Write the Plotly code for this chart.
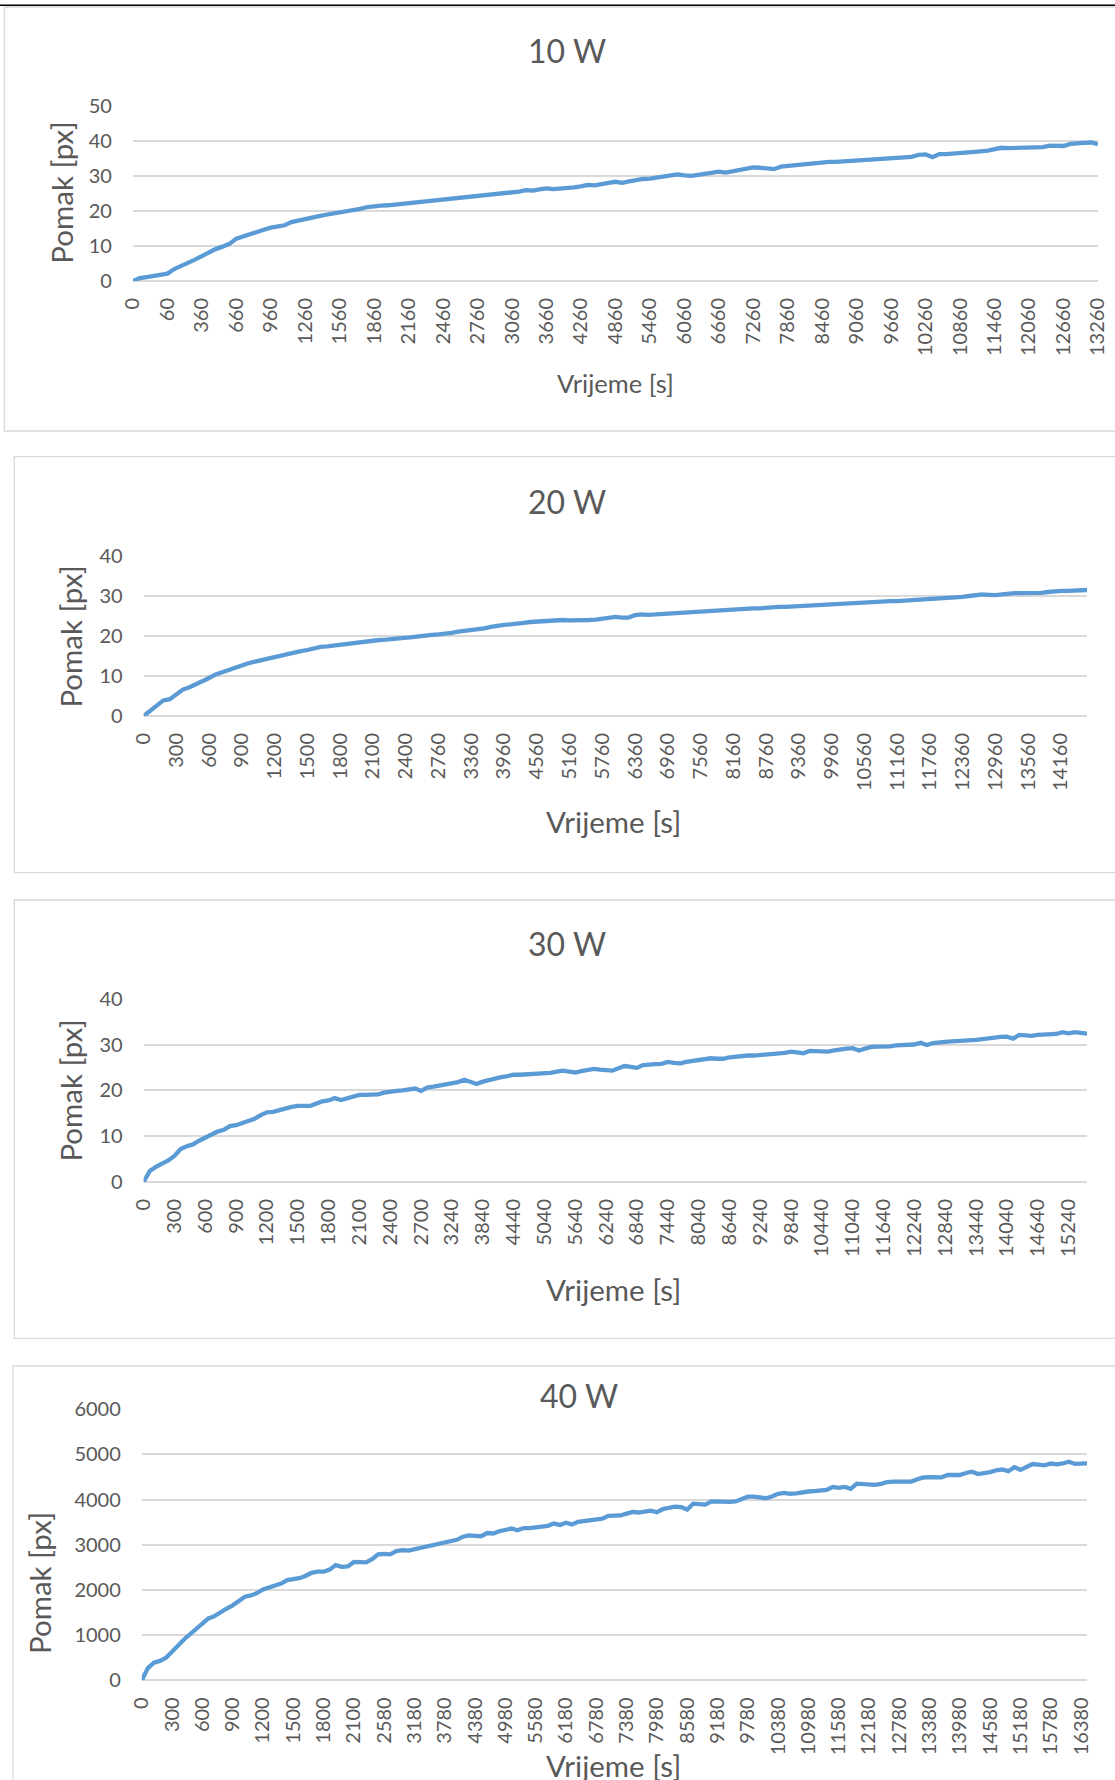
import plotly.graph_objects as go

W, H = 1115, 1780

# ---------------- data ----------------
# category (time) labels of each measurement, in seconds
time_10w = [0, 12, 24, 36, 48] + list(range(60, 3060, 60)) + list(range(3060, 13261, 120))
time_20w = list(range(0, 2401, 60)) + [2460, 2520, 2580, 2640] + list(range(2760, 14641, 120))
time_30w = list(range(0, 2701, 60)) + [2760, 2880, 3000, 3120] + list(range(3240, 15601, 120))
time_40w = list(range(0, 2101, 60)) + [2160, 2220, 2340, 2460] + list(range(2580, 16501, 120))

pomak_10w = [
    0, 0.8, 1.1, 1.4, 1.8, 2.1, 3.4, 4.2, 5.0, 6.1, 7.1, 8.2, 9.1, 9.8, 10.6, 12.1, 12.8, 13.3, 13.9, 14.6,
    15.2, 15.5, 15.9, 16.8, 17.3, 17.6, 18.0, 18.5, 18.9, 19.2, 19.4, 19.9, 20.0, 20.6, 21.1, 21.4, 21.5, 21.6, 21.8, 22.1,
    22.3, 22.4, 22.7, 22.6, 23.0, 23.3, 23.2, 23.6, 23.8, 24.0, 24.2, 24.3, 24.7, 24.8, 24.9, 25.2, 25.5, 25.9, 25.8, 26.1,
    26.4, 26.2, 26.3, 26.5, 26.7, 27.0, 27.4, 27.3, 27.5, 28.0, 28.3, 28.0, 28.4, 28.8, 29.1, 29.2, 29.5, 29.8, 30.1, 30.4,
    30.1, 30.0, 30.3, 30.7, 31.1, 31.2, 30.9, 31.2, 31.5, 31.8, 32.4, 32.3, 32.1, 31.9, 32.6, 32.8, 33.0, 33.2, 33.5, 33.8,
    34.0, 34.0, 34.0, 34.1, 34.2, 34.3, 34.4, 34.5, 34.6, 34.9, 35.0, 35.2, 35.3, 35.4, 36.0, 36.1, 35.3, 36.2, 36.2, 36.3,
    36.5, 36.6, 36.8, 37.0, 37.2, 37.6, 38.0, 37.9, 38.0, 37.9, 38.0, 38.0, 38.2, 38.6, 38.7, 38.5, 39.1, 39.4, 39.4, 39.5,
    39.0,
]
pomak_20w = [
    0, 1.4, 2.7, 3.9, 4.2, 5.3, 6.6, 7.2, 7.9, 8.7, 9.5, 10.4, 11.0, 11.6, 12.2, 12.7, 13.2, 13.6, 14.0, 14.4,
    14.8, 15.1, 15.5, 15.8, 16.2, 16.5, 16.9, 17.3, 17.4, 17.6, 17.8, 18.1, 18.4, 18.6, 18.8, 19.0, 19.0, 19.1, 19.2, 19.3,
    19.5, 19.7, 19.9, 20.2, 20.3, 20.4, 20.5, 20.8, 21.1, 21.3, 21.4, 21.6, 21.9, 22.3, 22.6, 22.8, 22.9, 23.2, 23.3, 23.5,
    23.6, 23.8, 23.7, 23.9, 24.0, 23.9, 23.9, 23.8, 24.0, 24.1, 24.3, 24.7, 24.8, 24.6, 24.6, 25.2, 25.4, 25.3, 25.4, 25.5,
    25.6, 25.7, 25.9, 25.9, 26.0, 26.3, 26.3, 26.4, 26.5, 26.5, 26.6, 26.7, 26.8, 26.9, 26.9, 27.1, 27.2, 27.3, 27.3, 27.4,
    27.5, 27.5, 27.6, 27.7, 27.9, 28.0, 28.0, 28.1, 28.2, 28.3, 28.4, 28.5, 28.6, 28.6, 28.7, 28.7, 28.8, 28.9, 28.9, 29.0,
    29.1, 29.3, 29.4, 29.4, 29.5, 29.8, 30.0, 30.2, 30.4, 30.3, 30.2, 30.4, 30.6, 30.7, 30.7, 30.7, 30.7, 30.8, 31.0, 31.2,
    31.3, 31.3, 31.4, 31.5, 31.5,
]
pomak_30w = [
    0, 2.4, 3.3, 3.9, 4.7, 5.7, 7.2, 7.8, 8.2, 9.0, 9.7, 10.5, 11.0, 11.4, 12.2, 12.4, 12.8, 13.4, 13.8, 14.6,
    15.2, 15.3, 15.7, 16.2, 16.4, 16.6, 16.6, 16.6, 17.1, 17.6, 17.8, 18.3, 17.9, 18.2, 18.5, 19.0, 19.0, 19.0, 19.1, 19.5,
    19.8, 19.9, 20.0, 20.2, 20.4, 19.9, 20.6, 20.8, 21.0, 21.3, 21.5, 21.8, 22.3, 21.9, 21.4, 21.9, 22.3, 22.7, 22.9, 23.1,
    23.4, 23.4, 23.5, 23.5, 23.5, 23.6, 23.8, 24.1, 24.3, 24.1, 23.9, 24.2, 24.4, 24.7, 24.5, 24.4, 24.3, 24.8, 25.3, 25.1,
    24.9, 25.5, 25.5, 25.7, 25.8, 26.2, 26.0, 25.9, 26.2, 26.4, 26.4, 26.6, 27.0, 26.9, 26.9, 27.2, 27.4, 27.5, 27.6, 27.6,
    27.7, 27.8, 27.9, 28.0, 28.2, 28.45, 28.3, 28.1, 28.6, 28.5, 28.4, 28.45, 28.7, 28.95, 29.1, 29.2, 28.7, 29.1, 29.5, 29.55,
    29.55, 29.6, 29.8, 29.9, 29.8, 30.0, 30.4, 29.9, 30.3, 30.55, 30.6, 30.7, 30.75, 30.85, 30.9, 31.0, 31.2, 31.4, 31.5, 31.65,
    31.7, 31.3, 32.1, 32.0, 31.9, 32.1, 32.2, 32.25, 32.3, 32.7, 32.45, 32.7, 32.6, 32.4,
]
pomak_40w = [
    0, 270, 390, 430, 500, 620, 770, 910, 1020, 1150, 1270, 1370, 1420, 1510, 1590, 1660, 1770, 1850, 1880, 1930,
    2010, 2050, 2090, 2140, 2220, 2236, 2260, 2310, 2380, 2405, 2405, 2450, 2550, 2510, 2520, 2620, 2610, 2610, 2680, 2790,
    2800, 2790, 2860, 2880, 2870, 2900, 2940, 2970, 3000, 3020, 3050, 3080, 3110, 3180, 3210, 3200, 3190, 3260, 3250, 3300,
    3330, 3360, 3320, 3370, 3370, 3380, 3400, 3420, 3470, 3440, 3490, 3450, 3510, 3530, 3550, 3550, 3580, 3640, 3640, 3650,
    3690, 3730, 3715, 3730, 3755, 3720, 3790, 3820, 3844, 3835, 3780, 3910, 3890, 3890, 3960, 3950, 3940, 3950, 3960, 4020,
    4066, 4066, 4050, 4030, 4070, 4130, 4150, 4130, 4140, 4170, 4180, 4190, 4200, 4214, 4280, 4260, 4280, 4240, 4355, 4350,
    4346, 4325, 4350, 4390, 4398, 4398, 4398, 4400, 4450, 4490, 4500, 4505, 4495, 4545, 4545, 4545, 4590, 4619, 4565, 4580,
    4610, 4650, 4670, 4630, 4720, 4660, 4720, 4789, 4775, 4760, 4800, 4780, 4800, 4840, 4790, 4800, 4804,
]

titles = ["10 W", "20 W", "30 W", "40 W"]
y_ranges = [[0, 50], [0, 40], [0, 40], [0, 6000]]
y_ticks = [[0, 10, 20, 30, 40, 50], [0, 10, 20, 30, 40], [0, 10, 20, 30, 40],
           [0, 1000, 2000, 3000, 4000, 5000, 6000]]
x_title = "Vrijeme [s]"
y_title = "Pomak [px]"
LABEL_EVERY = 5

# ---------------- layout (pixels) ----------------
# plot area: x0, x1, ytop, ybottom
plot_px = [(132.9, 1097.9, 105.7, 281.0),
           (143.6, 1087.1, 556.0, 716.0),
           (143.6, 1087.1, 998.7, 1182.0),
           (141.8, 1087.1, 1409.3, 1680.3)]
box_px = [(4.3, 7.0, 1125, 431.0),
          (14.3, 456.7, 1125, 872.7),
          (14.3, 900.0, 1125, 1338.3),
          (12.9, 1366.0, 1125, 1800)]
title_px = [(566.5, 50.5), (566.5, 501.5), (566.5, 943.3), (579.0, 1395.0)]
ytitle_px = [(60.7, 193.0), (69.6, 637.0), (69.6, 1091.0), (39.3, 1582.7)]
xtitle_px = [(615.0, 382.5), (613.0, 822.0), (613.0, 1289.0), (613.0, 1765.5)]
xtitle_size = [25.5, 29.5, 29.5, 29.5]

TXT = "#595959"
GRID = "#D9D9D9"
BLUE = "#5B9BD5"
FONT = "Lato"


def px_x(x):
    return x / W


def px_y(y):
    return 1 - y / H


series = [(time_10w, pomak_10w), (time_20w, pomak_20w), (time_30w, pomak_30w), (time_40w, pomak_40w)]

fig = go.Figure()
shapes = []
annotations = []

for i, (t, v) in enumerate(series):
    n = i + 1
    xa = "x" if n == 1 else f"x{n}"
    ya = "y" if n == 1 else f"y{n}"
    cats = [str(s) for s in t]
    fig.add_trace(go.Scatter(x=cats, y=v, mode="lines", xaxis=xa, yaxis=ya,
                             line=dict(color=BLUE, width=4.3), hoverinfo="skip", showlegend=False))
    x0, x1, yt, yb = plot_px[i]
    xkey = "xaxis" if n == 1 else f"xaxis{n}"
    ykey = "yaxis" if n == 1 else f"yaxis{n}"
    fig.update_layout(**{
        xkey: dict(domain=[px_x(x0), px_x(x1)], anchor=ya, type="category",
                   range=[0, len(cats) - 1], tickmode="array",
                   tickvals=cats[::LABEL_EVERY], ticktext=cats[::LABEL_EVERY],
                   tickangle=-90, showgrid=False, zeroline=False, showline=False,
                   ticks="", ticklabelstandoff=12,
                   tickfont=dict(family=FONT, size=20, color=TXT), automargin=False,
                   fixedrange=True),
        ykey: dict(domain=[px_y(yb), px_y(yt)], anchor=xa, range=y_ranges[i],
                   tickmode="array", tickvals=y_ticks[i],
                   showgrid=True, gridcolor=GRID, gridwidth=1.5,
                   zeroline=True, zerolinecolor=GRID, zerolinewidth=1.5,
                   showline=False, ticks="", ticklabelstandoff=20,
                   tickfont=dict(family=FONT, size=20, color=TXT), automargin=False,
                   fixedrange=True),
    })
    bx0, by0, bx1, by1 = box_px[i]
    shapes.append(dict(type="rect", xref="paper", yref="paper",
                       x0=px_x(bx0), x1=px_x(bx1), y0=px_y(by1), y1=px_y(by0),
                       line=dict(color=GRID, width=1.3), fillcolor="rgba(0,0,0,0)", layer="below"))
    tx, ty = title_px[i]
    annotations.append(dict(text=titles[i], x=px_x(tx), y=px_y(ty), xref="paper", yref="paper",
                            xanchor="center", yanchor="middle", showarrow=False,
                            font=dict(family=FONT, size=32, color=TXT)))
    yx, yy = ytitle_px[i]
    annotations.append(dict(text=y_title, x=px_x(yx), y=px_y(yy), xref="paper", yref="paper",
                            xanchor="center", yanchor="middle", showarrow=False, textangle=-90,
                            font=dict(family=FONT, size=29.5, color=TXT)))
    xx, xy = xtitle_px[i]
    annotations.append(dict(text=x_title, x=px_x(xx), y=px_y(xy), xref="paper", yref="paper",
                            xanchor="center", yanchor="middle", showarrow=False,
                            font=dict(family=FONT, size=xtitle_size[i], color=TXT)))

# page rule at the top
shapes.append(dict(type="line", xref="paper", yref="paper", x0=0, x1=1,
                   y0=px_y(5.3), y1=px_y(5.3), line=dict(color="black", width=1.5)))

fig.update_layout(width=W, height=H, margin=dict(l=0, r=0, t=0, b=0),
                  paper_bgcolor="white", plot_bgcolor="white", template="none",
                  shapes=shapes, annotations=annotations, showlegend=False)

fig.write_html("out.html", config={"displayModeBar": False},
               post_script="document.body.style.margin='0';document.body.style.overflow='hidden';")
